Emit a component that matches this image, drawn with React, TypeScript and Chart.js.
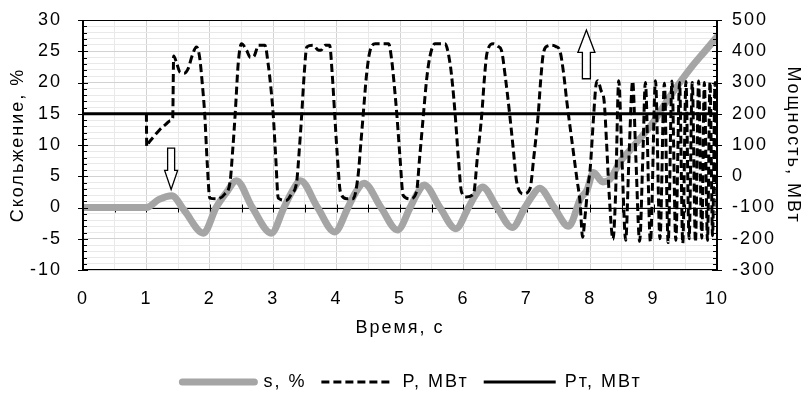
import React, { useEffect, useRef } from 'react';
import { Chart, registerables } from 'chart.js';

Chart.register(...registerables);

// ---- data ----
const sTime = [0, 1.0, 1.2, 1.4, 1.6, 1.9, 2.1, 2.27, 2.42, 2.67, 2.97, 3.17, 3.3, 3.43, 3.7, 3.97, 4.18, 4.3, 4.43, 4.7, 4.96, 5.16, 5.27, 5.38, 5.63, 5.88, 6.08, 6.19, 6.3, 6.53, 6.77, 6.97, 7.09, 7.2, 7.43, 7.66, 7.85, 7.95, 8.05, 8.2, 8.31, 8.47, 8.63, 8.89, 9.0, 9.2, 9.4, 9.6, 9.8, 10.0];
const sValue = [0, 0, 1.3, 1.9, -0.5, -4.1, 0, 2.5, 4.3, 0, -4.1, 0, 2.6, 4.3, 0, -3.9, 0, 2.4, 3.9, 0, -3.6, 0, 2.2, 3.6, 0, -3.4, 0, 2.0, 3.3, 0, -3.2, 0, 1.9, 3.1, 0, -3.0, 1.5, 2.8, 5.6, 4.1, 4.5, 7.3, 9.2, 12.3, 13.7, 16.9, 19.8, 22.5, 24.9, 27.3];

const pTime = [1.0, 1.005, 1.04, 1.12, 1.21, 1.3, 1.38, 1.415, 1.43, 1.48, 1.53, 1.6, 1.66, 1.72, 1.79, 1.84, 1.88, 1.92, 1.96, 2.0, 2.11, 2.24, 2.32, 2.36, 2.4, 2.45, 2.5, 2.58, 2.64, 2.7, 2.77, 2.87, 2.92, 2.96, 3.0, 3.04, 3.08, 3.21, 3.29, 3.37, 3.41, 3.45, 3.49, 3.53, 3.63, 3.7, 3.75, 3.82, 3.89, 3.93, 3.97, 4.01, 4.06, 4.16, 4.26, 4.34, 4.38, 4.42, 4.47, 4.52, 4.61, 4.82, 4.87, 4.91, 4.95, 5.0, 5.05, 5.16, 5.26, 5.31, 5.37, 5.42, 5.47, 5.55, 5.71, 5.79, 5.83, 5.87, 5.92, 5.97, 6.05, 6.16, 6.22, 6.29, 6.33, 6.37, 6.47, 6.55, 6.6, 6.66, 6.73, 6.79, 6.84, 6.95, 7.05, 7.11, 7.18, 7.22, 7.26, 7.33, 7.39, 7.46, 7.52, 7.58, 7.63, 7.72, 7.79, 7.84, 7.88, 7.92, 7.96, 8.0, 8.05, 8.09, 8.12, 8.17, 8.22, 8.26, 8.3, 8.36, 8.4, 8.45, 8.5, 8.56, 8.61, 8.67, 8.72, 8.78, 8.83, 8.87, 8.95, 9.03, 9.1, 9.17, 9.23, 9.29, 9.35, 9.41, 9.46, 9.51, 9.56, 9.61, 9.66, 9.71, 9.76, 9.8, 9.85, 9.89, 9.93, 9.97, 10.0];
const pValue = [200, 95, 108, 128, 149, 165, 178, 186, 385, 360, 333, 330, 345, 385, 414, 380, 300, 198, 40, -70, -72, -56, -18, 80, 198, 365, 424, 403, 380, 385, 419, 419, 360, 290, 198, 60, -70, -77, -56, -18, 80, 198, 330, 414, 419, 405, 403, 419, 419, 330, 198, 70, -50, -72, -72, 4, 100, 198, 320, 395, 424, 424, 370, 290, 198, 60, -61, -72, -50, 60, 198, 310, 381, 424, 424, 360, 290, 198, 60, -50, -66, -56, 60, 198, 310, 392, 424, 415, 403, 320, 198, 80, -18, -56, -40, 60, 198, 310, 392, 417, 419, 415, 403, 330, 241, 100, -8, -83, -195, -126, -40, 25, 180, 290, 306, 275, 240, 100, -60, -202, -60, 306, 60, -205, 50, 304, 60, -208, 60, 300, -210, 306, -200, 298, -212, 305, -205, 300, -215, 303, -200, 300, -210, 305, -198, 300, -205, 302, -190, 300, -120];

const ptTime = [0, 10];
const ptValue = [200, 200];

const seriesNames = ['s, %', 'P, МВт', 'Pт, МВт'];
const xTitle = 'Время, с';
const yTitle = 'Скольжение, %';
const y2Title = 'Мощность, МВт';

// annotation arrows (time, tail value, tip value on the slip axis)
const arrowTime = [1.39, 7.94];
const arrowTail = [9.5, 20.6];
const arrowTip = [2.9, 28.4];

const FAMILY = "'Liberation Sans', Arial, sans-serif";
const FS = 18;
const MAJOR_GRID = '#d2d2d2';
const MINOR_GRID = '#e9e9e9';
const CLEAR = 'rgba(0,0,0,0)';

const toXY = (xs: number[], ys: number[]) => xs.map((x, i) => ({ x, y: ys[i] }));

const decor = {
  id: 'decor',
  beforeLayout(chart: any) {
    chart.ctx.letterSpacing = '2px';
  },
  beforeDraw(chart: any) {
    chart.ctx.letterSpacing = '2px';
  },
  beforeDatasetsDraw(chart: any) {
    const { ctx, chartArea: a, scales } = chart;
    const x = scales.x;
    const y = scales.y;
    ctx.save();
    ctx.strokeStyle = '#000';
    ctx.lineWidth = 1;
    const y0 = Math.round(y.getPixelForValue(0)) + 0.5;
    ctx.beginPath();
    ctx.moveTo(a.left, y0);
    ctx.lineTo(a.right, y0);
    x.ticks.forEach((t: any) => {
      const px = Math.round(x.getPixelForValue(t.value)) + 0.5;
      ctx.moveTo(px, y0 - 4);
      ctx.lineTo(px, y0 + 4);
    });
    ctx.stroke();
    ctx.restore();
  },
  afterDatasetsDraw(chart: any) {
    const { ctx, chartArea: a, scales } = chart;
    const x = scales.x;
    const y = scales.y;
    const y2 = scales.y2;
    ctx.save();
    ctx.strokeStyle = '#000';
    ctx.lineWidth = 1;
    ctx.strokeRect(Math.round(a.left) + 0.5, Math.round(a.top) + 0.5, Math.round(a.right - a.left) - 1, Math.round(a.bottom - a.top) - 1);
    ctx.lineWidth = 2;
    ctx.beginPath();
    ctx.moveTo(a.left, a.top);
    ctx.lineTo(a.left, a.bottom);
    ctx.moveTo(a.right, a.top);
    ctx.lineTo(a.right, a.bottom);
    ctx.stroke();
    ctx.lineWidth = 1;
    ctx.beginPath();
    y.ticks.forEach((t: any) => {
      const py = Math.round(y.getPixelForValue(t.value)) + 0.5;
      if (t.value % 5 === 0) {
        ctx.moveTo(a.left - 5, py);
        ctx.lineTo(a.left + 5, py);
      } else {
        ctx.moveTo(a.left, py);
        ctx.lineTo(a.left + 4, py);
      }
    });
    y2.ticks.forEach((t: any) => {
      const py = Math.round(y2.getPixelForValue(t.value)) + 0.5;
      if (t.value % 100 === 0) {
        ctx.moveTo(a.right - 5, py);
        ctx.lineTo(a.right + 5, py);
      } else {
        ctx.moveTo(a.right - 4, py);
        ctx.lineTo(a.right, py);
      }
    });
    ctx.stroke();
    arrowTime.forEach((t, i) => {
      const cx = x.getPixelForValue(t);
      const tail = y.getPixelForValue(arrowTail[i]);
      const tip = y.getPixelForValue(arrowTip[i]);
      const dir = tip > tail ? 1 : -1;
      const len = Math.abs(tip - tail);
      const headLen = len * 0.46;
      const shaftW = i === 0 ? 3.5 : 4;
      const headW = i === 0 ? 6.5 : 8.5;
      const base = tip - dir * headLen;
      ctx.beginPath();
      ctx.moveTo(cx - shaftW, tail);
      ctx.lineTo(cx + shaftW, tail);
      ctx.lineTo(cx + shaftW, base);
      ctx.lineTo(cx + headW, base);
      ctx.lineTo(cx, tip);
      ctx.lineTo(cx - headW, base);
      ctx.lineTo(cx - shaftW, base);
      ctx.closePath();
      ctx.fillStyle = '#fff';
      ctx.fill();
      ctx.lineWidth = 1.3;
      ctx.stroke();
    });
    ctx.restore();
  },
};

export default function App() {
  const ref = useRef<HTMLCanvasElement | null>(null);

  useEffect(() => {
    if (!ref.current) return;
    const font = { family: FAMILY, size: FS };
    const chart = new Chart(ref.current, {
      type: 'line',
      data: {
        datasets: [
          {
            label: seriesNames[0],
            data: toXY(sTime, sValue),
            yAxisID: 'y',
            borderColor: '#a5a5a5',
            backgroundColor: '#a5a5a5',
            borderWidth: 7,
            borderCapStyle: 'round',
            borderJoinStyle: 'round',
            cubicInterpolationMode: 'monotone',
            pointRadius: 0,
            order: 2,
          } as any,
          {
            label: seriesNames[1],
            data: toXY(pTime, pValue),
            yAxisID: 'y2',
            borderColor: '#000',
            backgroundColor: '#000',
            borderWidth: 3,
            borderDash: [8, 4],
            cubicInterpolationMode: 'monotone',
            pointRadius: 0,
            order: 1,
          } as any,
          {
            label: seriesNames[2],
            data: toXY(ptTime, ptValue),
            yAxisID: 'y2',
            borderColor: '#000',
            backgroundColor: '#000',
            borderWidth: 3,
            pointRadius: 0,
            order: 0,
          } as any,
        ],
      },
      options: {
        animation: false,
        responsive: true,
        maintainAspectRatio: false,
        layout: { padding: { top: 20, left: 14, right: 0, bottom: 0 } },
        plugins: {
          legend: {
            position: 'bottom',
            maxHeight: 39,
            labels: {
              usePointStyle: true,
              pointStyle: 'line',
              pointStyleWidth: 72,
              padding: 15,
              color: '#000',
              font,
              sort: (a: any, b: any) => a.datasetIndex - b.datasetIndex,
              generateLabels: (ch: any) => {
                const items = (Chart as any).defaults.plugins.legend.labels.generateLabels(ch);
                items.forEach((it: any) => {
                  const ds = ch.data.datasets[it.datasetIndex];
                  it.lineDash = ds.borderDash || [];
                  it.lineWidth = ds.borderWidth;
                  it.lineCap = ds.borderCapStyle || 'butt';
                  it.strokeStyle = ds.borderColor;
                });
                return items;
              },
            },
          } as any,
          tooltip: { enabled: false },
        },
        scales: {
          x: {
            type: 'linear',
            min: 0,
            max: 10,
            position: 'bottom',
            afterFit: (s: any) => {
              s.height = 88;
            },
            ticks: {
              stepSize: 0.5,
              autoSkip: false,
              maxRotation: 0,
              padding: 0,
              color: '#000',
              font,
              callback: (v: any) => (Number.isInteger(v) ? String(v) : ''),
            },
            grid: {
              color: (c: any) => (Number.isInteger(c.tick?.value) ? MAJOR_GRID : MINOR_GRID),
              drawTicks: true,
              tickLength: 18,
              tickColor: CLEAR,
            },
            border: { display: false },
            title: { display: true, text: xTitle, color: '#000', font, padding: { top: 0, bottom: 19 } },
          },
          y: {
            type: 'linear',
            position: 'left',
            min: -10,
            max: 30,
            afterFit: (s: any) => {
              s.width = 69;
            },
            ticks: {
              stepSize: 1,
              autoSkip: false,
              padding: 0,
              color: '#000',
              font,
              callback: (v: any) => (v % 5 === 0 ? String(v) : ''),
            },
            grid: {
              color: (c: any) => (c.tick && c.tick.value % 5 === 0 ? MAJOR_GRID : MINOR_GRID),
              drawTicks: true,
              tickLength: 21,
              tickColor: CLEAR,
            },
            border: { display: false },
            title: { display: true, text: yTitle, color: '#000', font, padding: { top: -7, bottom: 0 } },
          },
          y2: {
            type: 'linear',
            position: 'right',
            min: -300,
            max: 500,
            afterFit: (s: any) => {
              s.width = 93;
            },
            ticks: {
              stepSize: 20,
              autoSkip: false,
              padding: 0,
              color: '#000',
              font,
              callback: (v: any) => (v % 100 === 0 ? String(v) : ''),
            },
            grid: { drawOnChartArea: false, drawTicks: true, tickLength: 15, tickColor: CLEAR },
            border: { display: false },
            title: { display: true, text: y2Title, color: '#000', font, padding: { top: 6, bottom: 0 } },
          },
        },
      } as any,
      plugins: [decor],
    });
    return () => chart.destroy();
  }, []);

  return (
    <div style={{ position: 'fixed', left: 0, top: 0, width: 810, height: 397, background: '#fff' }}>
      <canvas ref={ref} />
    </div>
  );
}
